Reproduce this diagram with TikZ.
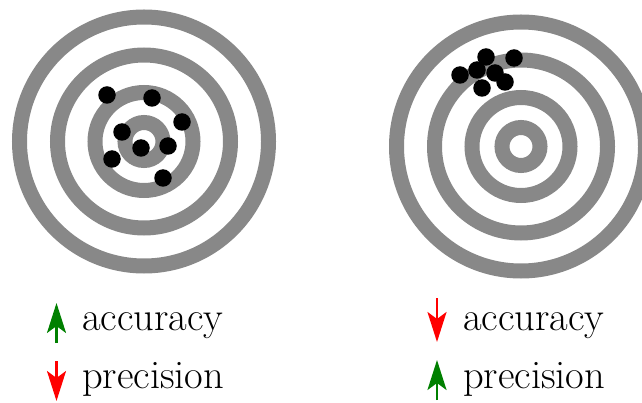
\documentclass[tikz,border=0pt]{standalone}
\usepackage{xcolor}
\usepackage{tikz}
\usetikzlibrary{arrows.meta}
\definecolor{ringgray}{RGB}{136,136,136}
\definecolor{upgreen}{RGB}{0,128,0}
\tikzset{
  ring/.style={draw=ringgray, line width=15pt},
  hit/.style={circle, fill=black, minimum size=17.5pt, inner sep=0pt},
  trend/.style={line width=2.5pt, -{Stealth[length=30pt, width=19pt, inset=7pt]}},
  lbl/.style={anchor=base west, inner sep=0pt, font=\fontsize{40.5}{48}\selectfont}
}

\begin{document}
\begin{tikzpicture}[x=1pt, y=-1pt]
            \useasboundingbox (0,0) rectangle (642,403);
            % left target
            \coordinate (lc) at (144,141.5);
            \foreach \r in {124.5,86.5,49,19}
                \draw[ring] (lc) circle[radius=\r pt];
            \node[hit](l1) at (107,95) {};
            \node[hit](l2) at (152,98) {};
            \node[hit](l3) at (182,122) {};
            \node[hit](l4) at (122,132) {};
            \node[hit](l5) at (141,148) {};
            \node[hit](l6) at (168,146) {};
            \node[hit](l7) at (112,159) {};
            \node[hit](l8) at (163,178) {};
            % right target
            \coordinate (rc) at (521,146.5);
            \foreach \r in {124.5,86.5,49,19}
                \draw[ring] (rc) circle[radius=\r pt];
            \node[hit](r1) at (486,57) {};
            \node[hit](r2) at (514,58) {};
            \node[hit](r3) at (477,70) {};
            \node[hit](r4) at (460,75) {};
            \node[hit](r5) at (495,73) {};
            \node[hit](r6) at (505,82) {};
            \node[hit](r7) at (482,88) {};
            % legend
            \coordinate (la0) at (56.5,343);
            \coordinate (la1) at (56.5,303);
            \coordinate (lp0) at (56.5,361);
            \coordinate (lp1) at (56.5,401);
            \coordinate (ra0) at (437,298);
            \coordinate (ra1) at (437,342);
            \coordinate (rp0) at (437,400);
            \coordinate (rp1) at (437,360);
            \draw[trend, upgreen] (la0) -- (la1);
            \draw[trend, red] (lp0) -- (lp1);
            \draw[trend, red] (ra0) -- (ra1);
            \draw[trend, upgreen] (rp0) -- (rp1);
            \node[lbl](lacc) at (82,330) {accuracy};
            \node[lbl](lprec) at (82,388) {precision};
            \node[lbl](racc) at (463,330) {accuracy};
            \node[lbl](rprec) at (463,388) {precision};
        \end{tikzpicture}
\end{document}
